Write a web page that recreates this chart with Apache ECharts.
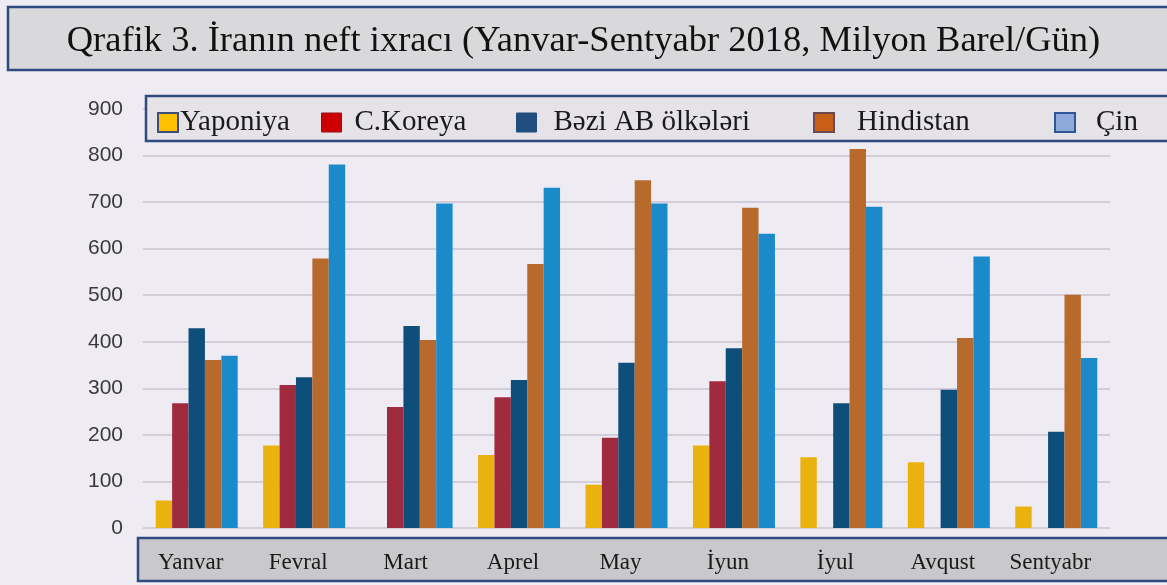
<!DOCTYPE html>
<html><head><meta charset="utf-8">
<script src="https://cdn.jsdelivr.net/npm/echarts@6/dist/echarts.min.js"></script>
<style>html,body{margin:0;padding:0;background:#EEEBF2;}#c{width:1167px;height:585px;}</style>
</head><body><div id="c"></div>
<script>
const titleText = 'Qrafik 3. İranın neft ixracı (Yanvar-Sentyabr 2018, Milyon Barel/Gün)';
const categories = ['Yanvar','Fevral','Mart','Aprel','May','İyun','İyul','Avqust','Sentyabr'];
const seriesNames = ['Yaponiya','C.Koreya','Bəzi AB ölkələri','Hindistan','Çin'];
const yaponiya  = [59, 177, null, 157, 93, 177, 152, 141, 46];
const cKoreya   = [268, 307, 260, 281, 194, 315, null, null, null];
const beziAB    = [429, 324, 434, 318, 355, 386, 268, 297, 207];
const hindistan = [361, 579, 404, 567, 747, 688, 814, 408, 501];
const cin       = [370, 781, 697, 731, 697, 632, 690, 583, 365];
const yMin = 0, yMax = 900, yStep = 100;

const seriesData = [yaponiya, cKoreya, beziAB, hindistan, cin];
const barColors = ['#E9B20E', '#A02A3E', '#0E4E7A', '#B86A2C', '#1B8ACB'];
const legendStyles = [
  {color:'#FFC000', borderColor:'#3A4F7A', borderWidth:2},
  {color:'#CC0000', borderColor:'#9A1010', borderWidth:1},
  {color:'#1F4E7F', borderColor:'#1F4E7F', borderWidth:1},
  {color:'#C8601A', borderColor:'#6A4A50', borderWidth:2},
  {color:'#8EAADC', borderColor:'#2F5597', borderWidth:2}
];
const legendLeft = [152, 316, 511, 808, 1049];
const legendTextPad = [[0,0,0,-3],[0,0,0,8],[0,0,0,12],[0,0,0,18],[0,0,0,16]];

const chart = echarts.init(document.getElementById('c'));
const legends = seriesNames.map((n, i) => ({
  data: [{name: n, icon: 'rect', itemStyle: legendStyles[i]}],
  left: legendLeft[i], top: 103,
  itemWidth: 20, itemHeight: 19,
  selectedMode: false, z: 6,
  textStyle: {fontFamily: 'Liberation Serif', fontSize: 29, color: '#1a1a1a', padding: legendTextPad[i]}
}));

chart.setOption({
  animation: false,
  backgroundColor: '#EEEBF2',
  title: {
    text: titleText, left: 'center', top: 18,
    textStyle: {fontFamily: 'Liberation Serif', fontSize: 36.5, fontWeight: 'normal', color: '#111'}
  },
  legend: legends,
  graphic: [
    {type:'rect', z: 1, shape:{x:8, y:7, width:1170, height:63}, style:{fill:'#D9D8DA', stroke:'#2E4A80', lineWidth:2.5}},
    {type:'rect', z: 1, shape:{x:146, y:96, width:1030, height:45}, style:{fill:'#E5E2E8', stroke:'#2E4A80', lineWidth:2.5}},
    {type:'rect', z: 1, shape:{x:138, y:538, width:1040, height:43}, style:{fill:'#C9C8CB', stroke:'#2E4A80', lineWidth:2.5}}
  ],
  grid: {left: 143, right: 57, top: 109, bottom: 57},
  xAxis: {
    type: 'category', data: categories, z: 5,
    axisLine: {show: true, lineStyle: {color: '#D2CED8', width: 1}},
    axisTick: {show: false},
    axisLabel: {interval: 0, hideOverlap: false, fontFamily: 'Liberation Serif', fontSize: 23, color: '#1a1a1a', margin: 23, padding: [0, 12, 0, 0]}
  },
  yAxis: {
    type: 'value', min: yMin, max: yMax, interval: yStep, z: 0,
    axisLine: {show: false}, axisTick: {show: false},
    axisLabel: {fontFamily: 'Liberation Sans', fontSize: 21, color: '#3A3A3A', margin: 20},
    splitLine: {lineStyle: {color: '#C9C3CF', width: 1.5}}
  },
  series: seriesNames.map((n, i) => ({
    name: n, type: 'bar', data: seriesData[i],
    barWidth: 16.4, barGap: '0%',
    itemStyle: {color: barColors[i]}
  }))
});
</script></body></html>
